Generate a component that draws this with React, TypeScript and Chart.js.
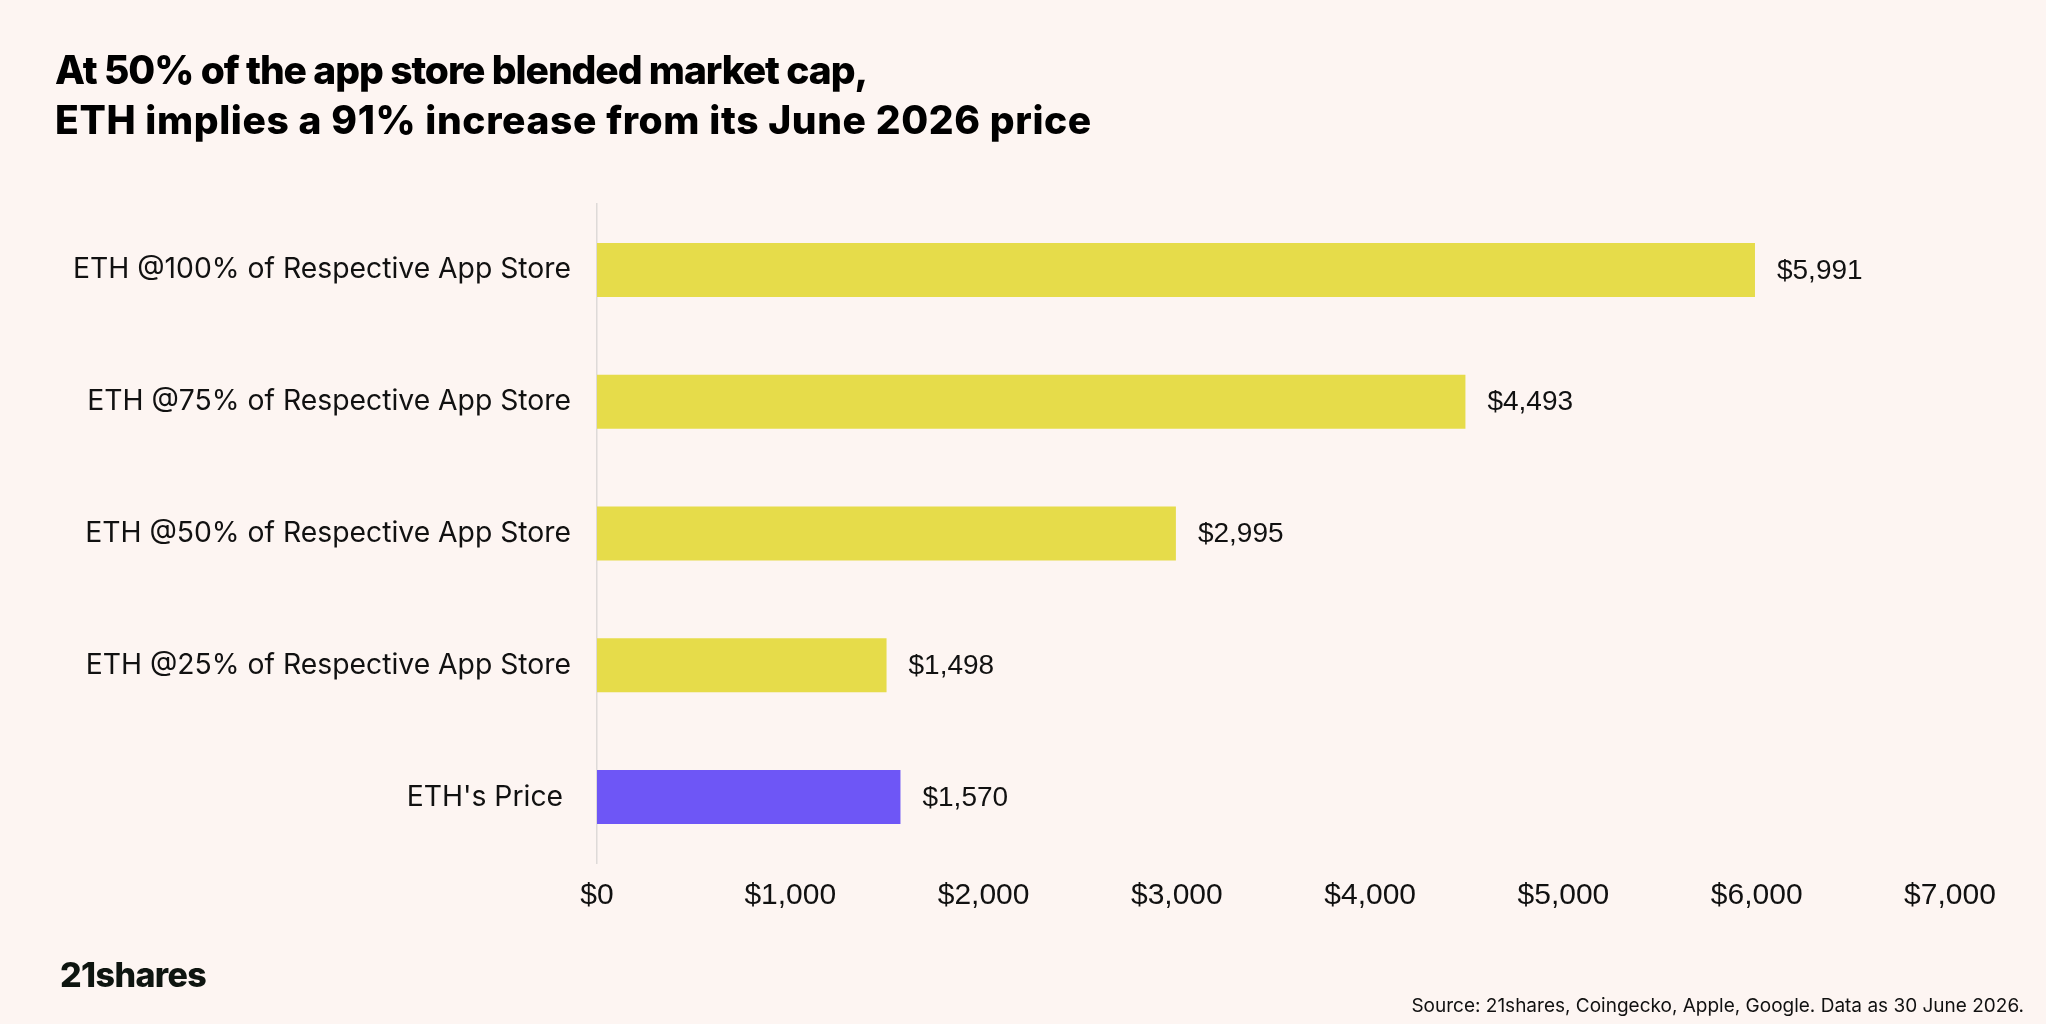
import React, { useEffect, useRef } from "react";
import { Chart, registerables } from "chart.js";

Chart.register(...registerables);

const categories = [
  "ETH @100% of Respective App Store",
  "ETH @75% of Respective App Store",
  "ETH @50% of Respective App Store",
  "ETH @25% of Respective App Store",
  "ETH's Price ",
];
const values = [5991, 4493, 2995, 1498, 1570];
const barColors = ["#E6DC4A", "#E6DC4A", "#E6DC4A", "#E6DC4A", "#6E56F6"];
const xTickValues = [0, 1000, 2000, 3000, 4000, 5000, 6000, 7000];
const titleLines = [
  "At 50% of the app store blended market cap,",
  "ETH implies a 91% increase from its June 2026 price",
];
const titleSpacing = ["-1.1px", "0.6px"];
const sourceText = "Source: 21shares, Coingecko, Apple, Google. Data as 30 June 2026.";
const logoText = "21shares";

const W = 2046;
const H = 1024;
const BG = "#FDF5F2";

const fmt = (v: number) => "$" + v.toLocaleString("en-US");

const valueLabels = {
  id: "valueLabels",
  afterDatasetsDraw(chart: any) {
    const ctx = chart.ctx;
    const meta = chart.getDatasetMeta(0);
    ctx.save();
    ctx.font = "28px 'Liberation Sans', Arial, sans-serif";
    ctx.fillStyle = "#111111";
    ctx.textAlign = "left";
    ctx.textBaseline = "middle";
    meta.data.forEach((bar: any, i: number) => {
      ctx.fillText(fmt(values[i]), bar.x + 22, bar.y + 1);
    });
    ctx.restore();
  },
};

export default function App() {
  const ref = useRef<HTMLCanvasElement | null>(null);

  useEffect(() => {
    if (!ref.current) return;
    const chart = new Chart(ref.current, {
      type: "bar",
      data: {
        labels: categories,
        datasets: [
          {
            data: values,
            backgroundColor: barColors,
            borderWidth: 0,
            barPercentage: 0.41,
            categoryPercentage: 1,
          },
        ],
      },
      options: {
        indexAxis: "y",
        animation: false,
        responsive: true,
        maintainAspectRatio: false,
        devicePixelRatio: 1,
        layout: { padding: { top: 204, right: 96, left: 0, bottom: 0 } },
        plugins: {
          legend: { display: false },
          tooltip: { enabled: false },
        },
        scales: {
          x: {
            type: "linear",
            min: 0,
            max: 7000,
            afterBuildTicks: (scale: any) => {
              scale.ticks = xTickValues.map((v) => ({ value: v }));
            },
            afterFit: (scale: any) => {
              scale.height = H - 863;
            },
            grid: { display: false, drawTicks: false },
            border: { display: false },
            ticks: {
              padding: 15,
              color: "#111111",
              font: { family: "'Liberation Sans', Arial, sans-serif", size: 30 },
              callback: (v: any) => fmt(Number(v)),
              maxRotation: 0,
            },
          },
          y: {
            afterFit: (scale: any) => {
              scale.width = 597;
            },
            grid: { display: false, drawTicks: false },
            border: { display: true, color: "#DEDAD8", width: 1.5 },
            ticks: {
              padding: 26,
              color: "#111111",
              font: { family: "Inter, 'Noto Sans', sans-serif", size: 28.3 },
            },
          },
        },
      },
      plugins: [valueLabels],
    });
    return () => chart.destroy();
  }, []);

  return (
    <div
      style={{
        position: "fixed",
        left: 0,
        top: 0,
        width: W,
        height: H,
        background: BG,
        fontFamily: "Inter, 'Noto Sans', sans-serif",
        color: "#000",
      }}
    >
      <div style={{ position: "absolute", left: 0, top: 0, width: W, height: H }}>
        <canvas ref={ref} />
      </div>
      <div
        style={{
          position: "absolute",
          left: 55,
          top: 45,
          fontSize: 39,
          lineHeight: "50px",
          fontWeight: 800,
          whiteSpace: "nowrap",
        }}
      >
        {titleLines.map((t, i) => (
          <div key={i} style={{ letterSpacing: titleSpacing[i] }}>
            {t}
          </div>
        ))}
      </div>
      <div
        style={{
          position: "absolute",
          left: 60,
          top: 955,
          fontSize: 34,
          lineHeight: "40px",
          fontWeight: 800,
          letterSpacing: "-0.6px",
          color: "#0E1510",
          whiteSpace: "nowrap",
        }}
      >
        {logoText}
      </div>
      <div
        style={{
          position: "absolute",
          right: 22,
          top: 994,
          fontSize: 19,
          lineHeight: "24px",
          color: "#111",
          whiteSpace: "nowrap",
        }}
      >
        {sourceText}
      </div>
    </div>
  );
}
